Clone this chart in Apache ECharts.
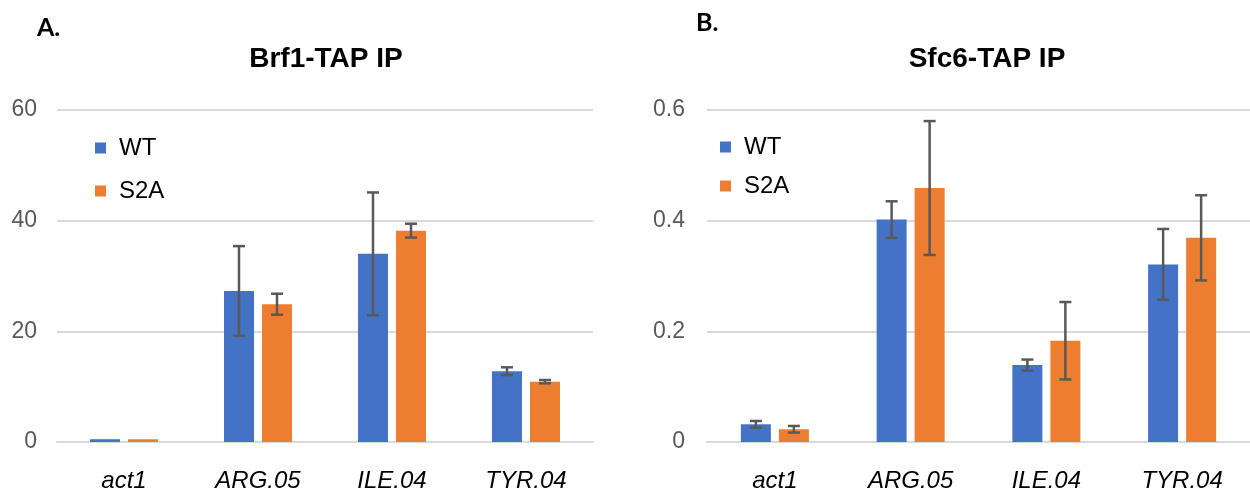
<!DOCTYPE html>
<html>
<head>
<meta charset="utf-8">
<title>Brf1-TAP IP / Sfc6-TAP IP</title>
<script src="https://cdn.jsdelivr.net/npm/echarts@6/dist/echarts.min.js"></script>
<style>
  html, body { margin: 0; padding: 0; background: #fff; }
  #chart { width: 1250px; height: 493px; }
</style>
</head>
<body>
<div id="chart"></div>
<script>
// Target genes on the x axis of both panels
const categories = ['act1', 'ARG.05', 'ILE.04', 'TYR.04'];
const seriesNames = ['WT', 'S2A'];

// Panel A: Brf1-TAP IP (mean and error)
const brfWT = [0.5, 27.3, 34.0, 12.8];
const brfWTErr = [null, 8.1, 11.1, 0.7];
const brfS2A = [0.5, 24.9, 38.2, 10.9];
const brfS2AErr = [null, 1.9, 1.25, 0.3];
const brfTicks = { min: 0, max: 60, interval: 20 };

// Panel B: Sfc6-TAP IP (mean and error)
const sfcWT = [0.032, 0.402, 0.139, 0.321];
const sfcWTErr = [0.006, 0.033, 0.010, 0.064];
const sfcS2A = [0.023, 0.459, 0.183, 0.369];
const sfcS2AErr = [0.006, 0.121, 0.070, 0.077];
const sfcTicks = { min: 0, max: 0.6, interval: 0.2 };

const COLORS = ['#4472C4', '#ED7D31'];
const FONT = '"Liberation Sans", Arial, sans-serif';
const BAR_W = 30;
const BAR_GAP = 8;

// Error whiskers drawn on top of each bar, offset to the bar's slot in the group
function errorSeries(gridIdx, vals, errs, side) {
  const data = [];
  vals.forEach((v, i) => {
    if (errs[i] != null) data.push([i, v - errs[i], v + errs[i]]);
  });
  return {
    type: 'custom',
    xAxisIndex: gridIdx,
    yAxisIndex: gridIdx,
    z: 10,
    silent: true,
    encode: { x: 0, y: [1, 2] },
    data: data,
    renderItem: function (params, api) {
      const lo = api.coord([api.value(0), api.value(1)]);
      const hi = api.coord([api.value(0), api.value(2)]);
      const x = lo[0] + side * (BAR_W + BAR_GAP) / 2;
      const cap = 6;
      const style = { stroke: '#595959', lineWidth: 2.5 };
      return {
        type: 'group',
        children: [
          { type: 'line', shape: { x1: x, y1: lo[1], x2: x, y2: hi[1] }, style: style },
          { type: 'line', shape: { x1: x - cap, y1: hi[1], x2: x + cap, y2: hi[1] }, style: style },
          { type: 'line', shape: { x1: x - cap, y1: lo[1], x2: x + cap, y2: lo[1] }, style: style }
        ]
      };
    }
  };
}

function barSeries(gridIdx, name, vals, color) {
  return {
    type: 'bar',
    name: name,
    xAxisIndex: gridIdx,
    yAxisIndex: gridIdx,
    data: vals,
    barWidth: BAR_W,
    barGap: (BAR_GAP / BAR_W * 100).toFixed(1) + '%',
    itemStyle: { color: color },
    emphasis: { disabled: true }
  };
}

function xAxis(gridIdx) {
  return {
    type: 'category',
    gridIndex: gridIdx,
    data: categories,
    axisLine: { lineStyle: { color: '#d9d9d9', width: 2 } },
    axisTick: { show: false },
    axisLabel: {
      fontFamily: FONT, fontSize: 24, fontStyle: 'italic', color: '#000', margin: 27
    }
  };
}

function yAxis(gridIdx, ticks, margin) {
  return {
    type: 'value',
    gridIndex: gridIdx,
    min: ticks.min,
    max: ticks.max,
    interval: ticks.interval,
    axisLine: { show: false },
    axisTick: { show: false },
    splitLine: { lineStyle: { color: '#d9d9d9', width: 2 } },
    axisLabel: { fontFamily: FONT, fontSize: 23, color: '#595959', margin: margin }
  };
}

function legend(left, top, gap) {
  return {
    data: seriesNames,
    orient: 'vertical',
    left: left,
    top: top,
    icon: 'rect',
    itemWidth: 11,
    itemHeight: 11,
    itemGap: gap,
    selectedMode: false,
    textStyle: { fontFamily: FONT, fontSize: 24, color: '#000', padding: [0, 0, 0, 8], lineHeight: 24 }
  };
}

const chart = echarts.init(document.getElementById('chart'), null, { renderer: 'canvas' });
chart.setOption({
  animation: false,
  backgroundColor: '#fff',
  color: COLORS,
  title: [
    { text: 'A.', left: 32, top: 10, textStyle: { fontFamily: 'Lato, ' + FONT, fontWeight: 'bold', fontSize: 25, color: '#000' } },
    { text: 'B.', left: 691, top: 5, textStyle: { fontFamily: 'Lato, ' + FONT, fontWeight: 'bold', fontSize: 25, color: '#000' } },
    { text: 'Brf1-TAP IP', left: 321, top: 40, textAlign: 'center', textStyle: { fontFamily: FONT, fontWeight: 'bold', fontSize: 28, color: '#000' } },
    { text: 'Sfc6-TAP IP', left: 982, top: 40, textAlign: 'center', textStyle: { fontFamily: FONT, fontWeight: 'bold', fontSize: 28, color: '#000' } }
  ],
  legend: [legend(90, 131, 19), legend(715, 130, 15)],
  grid: [
    { left: 57, top: 110, width: 536, height: 332 },
    { left: 707, top: 110, width: 544, height: 332 }
  ],
  xAxis: [xAxis(0), xAxis(1)],
  yAxis: [yAxis(0, brfTicks, 20), yAxis(1, sfcTicks, 22)],
  series: [
    barSeries(0, seriesNames[0], brfWT, COLORS[0]),
    barSeries(0, seriesNames[1], brfS2A, COLORS[1]),
    barSeries(1, seriesNames[0], sfcWT, COLORS[0]),
    barSeries(1, seriesNames[1], sfcS2A, COLORS[1]),
    errorSeries(0, brfWT, brfWTErr, -1),
    errorSeries(0, brfS2A, brfS2AErr, 1),
    errorSeries(1, sfcWT, sfcWTErr, -1),
    errorSeries(1, sfcS2A, sfcS2AErr, 1)
  ]
});
</script>
</body>
</html>
